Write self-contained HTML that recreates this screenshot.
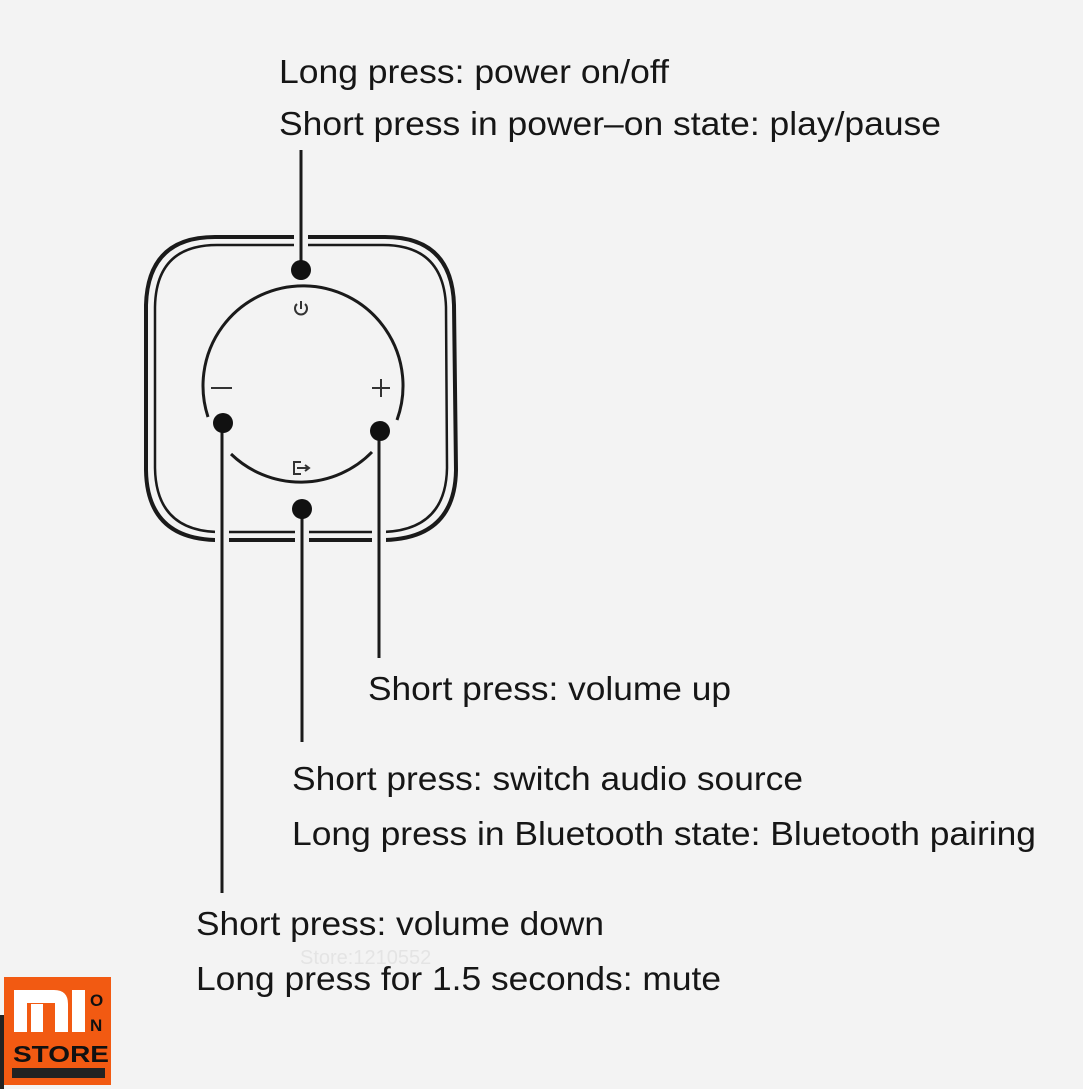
<!DOCTYPE html>
<html><head><meta charset="utf-8"><style>
html,body{margin:0;padding:0;background:#f3f3f3;}
svg{display:block}
text{font-family:"Liberation Sans",Arial,sans-serif;font-size:33px;fill:#161616}
</style></head><body>
<svg width="1083" height="1089" viewBox="0 0 1083 1089" xmlns="http://www.w3.org/2000/svg">
<rect width="1083" height="1089" fill="#f3f3f3"/>
<path d="M215,237 L385,237 Q452,237 454,305 L456,470 Q455,538 385,540 L215,540 Q147,538 146,470 L146,305 Q148,237 215,237 Z" fill="none" stroke="#1a1a1a" stroke-width="4"/>
<path d="M217,245 L383,245 Q444,245 446,307 L447,468 Q446,530 383,532 L217,532 Q156,530 155,468 L155,307 Q156,245 217,245 Z" fill="none" stroke="#1a1a1a" stroke-width="2.5"/>
<rect x="294" y="230" width="14" height="20" fill="#f3f3f3"/>
<rect x="215" y="526" width="14" height="20" fill="#f3f3f3"/>
<rect x="295" y="526" width="14" height="20" fill="#f3f3f3"/>
<rect x="372" y="526" width="14" height="20" fill="#f3f3f3"/>
<path d="M208,417 A100,100 0 1 1 397,420" fill="none" stroke="#1a1a1a" stroke-width="3"/>
<path d="M231,454 A100,100 0 0 0 372,452" fill="none" stroke="#1a1a1a" stroke-width="3"/>
<g stroke="#1a1a1a" stroke-width="3">
<line x1="301" y1="150" x2="301" y2="270"/>
<line x1="222" y1="423" x2="222" y2="893"/>
<line x1="379" y1="431" x2="379" y2="658"/>
<line x1="302" y1="509" x2="302" y2="742"/>
</g>
<g fill="#111">
<circle cx="301" cy="270" r="10"/>
<circle cx="223" cy="423" r="10"/>
<circle cx="380" cy="431" r="10"/>
<circle cx="302" cy="509" r="10"/>
</g>
<g stroke="#333" stroke-width="2" fill="none">
<path d="M297,304 A6,6 0 1 0 305,304"/><line x1="301" y1="301" x2="301" y2="309"/>
<line x1="211" y1="388" x2="232" y2="388"/>
<line x1="372" y1="388" x2="390" y2="388"/><line x1="381" y1="379" x2="381" y2="397"/>
<path d="M301,462 L294,462 L294,474 L301,474"/><line x1="297" y1="468" x2="309" y2="468"/><path d="M305,465 L309,468 L305,471"/>
</g>
<text x="279" y="83" textLength="390" lengthAdjust="spacingAndGlyphs">Long press: power on/off</text>
<text x="279" y="135" textLength="662" lengthAdjust="spacingAndGlyphs">Short press in power–on state: play/pause</text>
<text x="368" y="700" textLength="363" lengthAdjust="spacingAndGlyphs">Short press: volume up</text>
<text x="292" y="790" textLength="511" lengthAdjust="spacingAndGlyphs">Short press: switch audio source</text>
<text x="292" y="845" textLength="744" lengthAdjust="spacingAndGlyphs">Long press in Bluetooth state: Bluetooth pairing</text>
<text x="196" y="935" textLength="408" lengthAdjust="spacingAndGlyphs">Short press: volume down</text>
<text x="196" y="990" textLength="525" lengthAdjust="spacingAndGlyphs">Long press for 1.5 seconds: mute</text>
<text x="300" y="964" style="font-size:20px;fill:#e4e4e4">Store:1210552</text>
<rect x="4" y="977" width="107" height="108" fill="#f25a12"/>
<rect x="0" y="1015" width="4" height="74" fill="#222"/>
<path d="M14,990 h40 q14,0 14,14 v28 h-13 v-29 h-28 v29 h-13 Z" fill="#fff"/>
<rect x="31" y="1004" width="12" height="28" fill="#fff"/>
<rect x="72" y="990" width="13" height="42" fill="#fff"/>
<text x="90" y="1006" style="font-size:17px;font-weight:bold;fill:#111">O</text>
<text x="90" y="1031" style="font-size:17px;font-weight:bold;fill:#111">N</text>
<text x="13" y="1062" textLength="96" lengthAdjust="spacingAndGlyphs" style="font-size:23px;font-weight:bold;fill:#111">STORE</text>
<rect x="12" y="1068" width="93" height="10" fill="#222"/>
</svg>
</body></html>
